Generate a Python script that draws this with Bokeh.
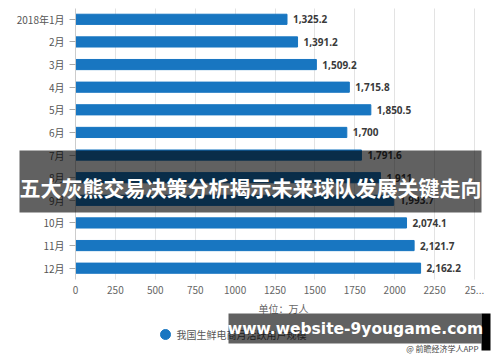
from bokeh.plotting import figure
from bokeh.models import Range1d, FixedTicker, BoxAnnotation, Label
from bokeh.core.properties import value
from bokeh.embed import file_html
from bokeh.resources import INLINE

# ---- data ----
months = ["2018年1月", "2月", "3月", "4月", "5月", "6月", "7月", "8月", "9月", "10月", "11月", "12月"]
users = [1325.2, 1391.2, 1509.2, 1715.8, 1850.5, 1700, 1791.6, 1911.0, 1993.7, 2074.1, 2121.7, 2162.2]
x_ticks = [0, 250, 500, 750, 1000, 1250, 1500, 1750, 2000, 2250, 2500]
x_tick_labels = ["0", "250", "500", "750", "1000", "1250", "1500", "1750", "2000", "2250", "25..."]
title_text = "五大灰熊交易决策分析揭示未来球队发展关键走向"
site_text = "www.website-9yougame.com"
legend_text = "我国生鲜电商月活跃用户规模"
unit_text = "单位：万人"
source_text = "@ 前瞻经济学人APP"

BLUE = "#1876c1"
CJK = "Noto Sans CJK SC"
W, H = 492, 354

idx = list(range(1, len(months) + 1))
labels = [(f"{v:,.1f}"[:-2] if float(v).is_integer() else f"{v:,.1f}") for v in users]

# plot area of the chart (canvas pixels): value 0 at x=75, 2500 at x=474; rows between y=7.5 and y=279
PX0, PX1 = 75, 474
PY0, PY1 = 7.5, 279
XMAX = 2500
ppu = (PX1 - PX0) / XMAX
row = (PY1 - PY0) / len(months)
x_start, x_end = -PX0 / ppu, (W - PX0) / ppu
y_top = 0.5 - PY0 / row
y_bot = 0.5 + (H - PY0) / row

def dx(ix):
    return (ix - PX0) / ppu
def dy(iy):
    return 0.5 + (iy - PY0) / row

p = figure(width=W, height=H, output_backend="svg", toolbar_location=None,
           x_range=Range1d(x_start, x_end), y_range=Range1d(y_bot, y_top),
           min_border=0, min_border_left=0, min_border_right=0, min_border_top=0, min_border_bottom=0)
p.outline_line_color = None
p.background_fill_color = "white"
p.border_fill_color = "white"

# axes placed at fixed locations inside the full-canvas frame
p.xaxis.fixed_location = 12.5
p.xaxis.bounds = (0, XMAX)
p.xaxis.ticker = FixedTicker(ticks=x_ticks)
p.xaxis.major_label_overrides = {t: s for t, s in zip(x_ticks, x_tick_labels)}
p.xaxis.axis_line_color = None
p.xaxis.major_tick_line_color = None
p.xaxis.minor_tick_line_color = None
p.xaxis.major_label_standoff = 0
p.xaxis.major_label_text_font = CJK
p.xaxis.major_label_text_font_size = "10px"
p.xaxis.major_label_text_color = "#666666"

p.yaxis.fixed_location = 0
p.yaxis.bounds = (0.5, 12.5)
p.yaxis.ticker = FixedTicker(ticks=idx)
p.yaxis.major_label_overrides = {i: m for i, m in zip(idx, months)}
p.yaxis.axis_line_color = "#cccccc"
p.yaxis.major_tick_line_color = "#aaaaaa"
p.yaxis.major_tick_out = 6
p.yaxis.major_tick_in = 0
p.yaxis.minor_tick_line_color = None
p.yaxis.major_label_standoff = 5
p.yaxis.major_label_text_font = CJK
p.yaxis.major_label_text_font_size = "10px"
p.yaxis.major_label_text_color = "#555555"

p.xgrid.ticker = FixedTicker(ticks=x_ticks[1:])
p.xgrid.grid_line_color = "#e3e3e3"
p.xgrid.cross_bounds = (0.5, 12.5)
p.ygrid.grid_line_color = None

p.hbar(y=idx, right=users, left=0, height=0.45, color=BLUE)
p.text(x=users, y=idx, text=labels, x_offset=6, text_baseline="middle",
       text_font=value("Noto Sans"), text_font_style="bold", text_font_size="10px",
       text_color="#3a3a3a")

# unit label
p.add_layout(Label(x=dx(283), y=dy(308), text=unit_text, text_align="center", text_baseline="middle",
                   text_font=CJK, text_font_size="10px", text_color="#666666"))

# legend (drawn manually)
p.scatter(x=[dx(165)], y=[dy(334)], size=10, color=BLUE)
p.add_layout(Label(x=dx(176), y=dy(334), text=legend_text, text_baseline="middle",
                   text_font=CJK, text_font_size="10px", text_color="#555555"))

# overlays
p.add_layout(BoxAnnotation(left=dx(19), right=dx(481), top=dy(150), bottom=dy(212),
                           fill_color="black", fill_alpha=0.62, line_color=None))
p.add_layout(Label(x=dx(250), y=dy(186), text=title_text, text_align="center", text_baseline="middle",
                   text_font=CJK, text_font_style="bold", text_font_size="21px", text_color="white"))

p.add_layout(BoxAnnotation(left=dx(228), right=dx(481), top=dy(313), bottom=dy(343),
                           fill_color="black", fill_alpha=0.62, line_color=None))
p.add_layout(BoxAnnotation(left=dx(481), right=dx(490), top=dy(313), bottom=dy(350),
                           fill_color="black", fill_alpha=1.0, line_color=None))
p.add_layout(Label(x=dx(355), y=dy(328.5), text=site_text, text_align="center", text_baseline="middle",
                   text_font="DejaVu Sans", text_font_style="bold", text_font_size="15.5px", text_color="white"))
p.add_layout(Label(x=dx(478), y=dy(348), text=source_text, text_align="right", text_baseline="middle",
                   text_font=CJK, text_font_size="8px", text_color="#444444"))

open("out.html", "w").write(file_html(p, INLINE))
